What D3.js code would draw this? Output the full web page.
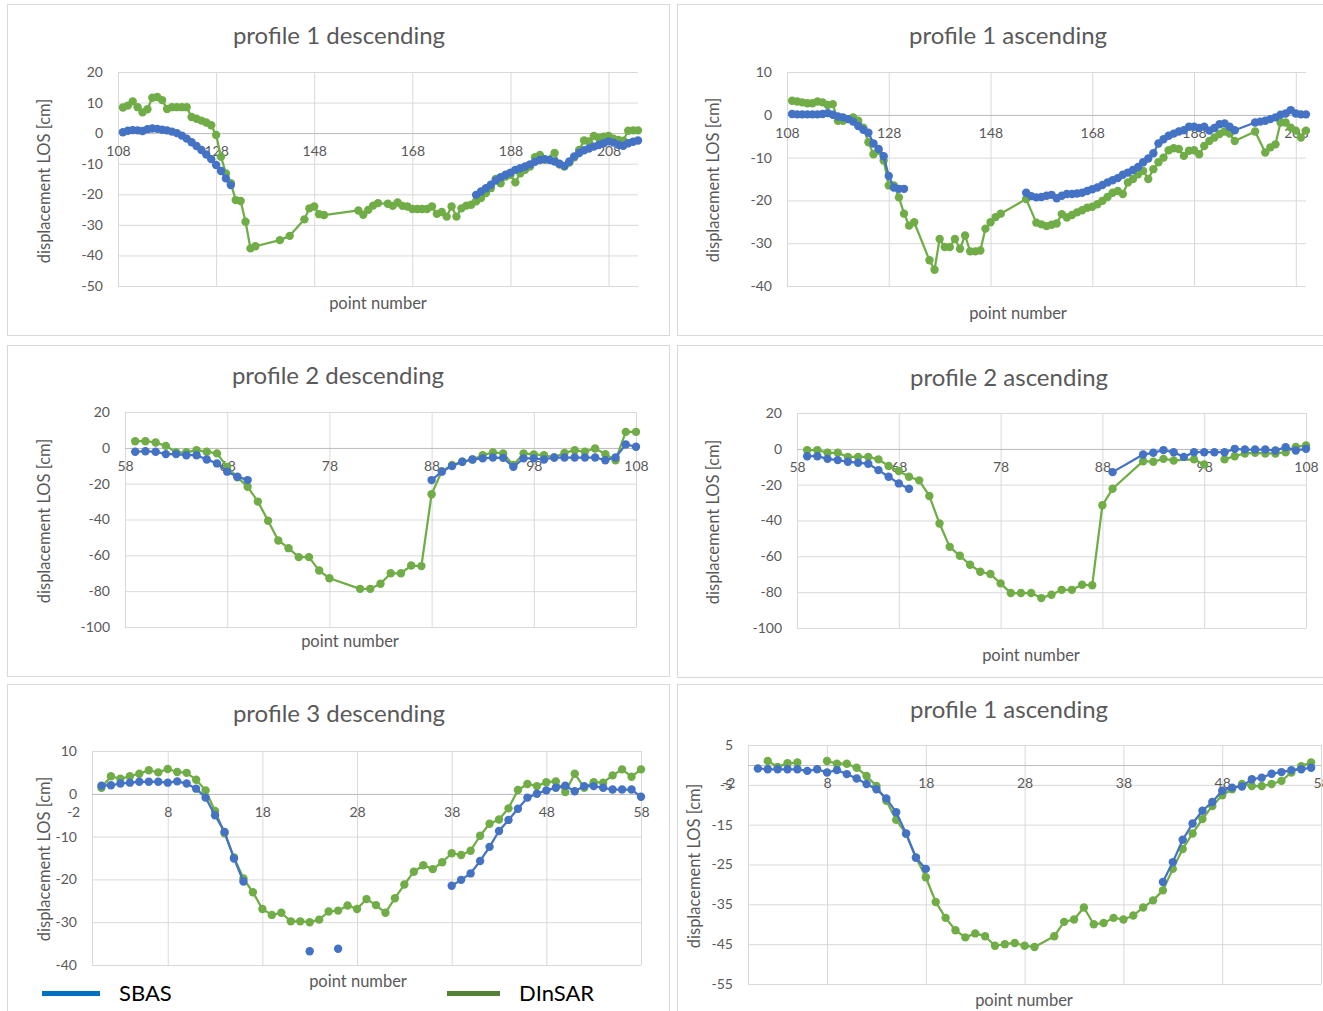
<!DOCTYPE html>
<html>
<head>
<meta charset="utf-8">
<script src="https://cdnjs.cloudflare.com/ajax/libs/d3/7.8.5/d3.min.js"></script>
<style>
  body { margin: 0; background: #fff; }
  svg { display: block; }
  text { font-family: Lato, "Open Sans", sans-serif; }
</style>
</head>
<body>
<svg></svg>
<script>
const seriesNames = ['SBAS', 'DInSAR']
const titles = ['profile 1 descending', 'profile 1 ascending', 'profile 2 descending',
                'profile 2 ascending', 'profile 3 descending', 'profile 1 ascending']
const xTitle = 'point number'
const yTitle = 'displacement LOS [cm]'

// tick labels
const xTicksA = [108, 128, 148, 168, 188, 208]
const xTicksB = [58, 68, 78, 88, 98, 108]
const xTicksC = [-2, 8, 18, 28, 38, 48, 58]
const yTicks1 = [20, 10, 0, -10, -20, -30, -40, -50]
const yTicks2 = [10, 0, -10, -20, -30, -40]
const yTicks3 = [20, 0, -20, -40, -60, -80, -100]
const yTicks5 = [10, 0, -10, -20, -30, -40]
const yTicks6 = [5, -5, -15, -25, -35, -45, -55]

// [point number, displacement]; null = break in the line
const p1Sbas = [[109,0.3],[110,0.8],[111,1.0],[112,0.9],[113,0.7],[114,1.3],[115,1.5],[116,1.4],[117,1.1],[118,0.9],[119,0.5],[120,0.0],[121,-0.8],[122,-1.8],[123,-3.0],[124,-4.2],[125,-5.5],[126,-7.0],[127,-8.5],[128,-10.4],[129,-12.4],[130,-14.8],[131,-17.0],null,
  [181,-20.2],[182,-19.1],[183,-18.0],[184,-16.9],[185,-15.5],[186,-14.4],[187,-13.6],[188,-12.9],[189,-12.0],[190,-11.5],[191,-10.9],[192,-10.2],[193,-9.4],[194,-8.8],[195,-8.5],[196,-8.8],[197,-9.3],[198,-10.0],[199,-10.7],[200,-9.3],[201,-7.6],[202,-6.5],[203,-5.6],[204,-5.0],[205,-4.4],[206,-3.9],[207,-3.3],[208,-2.7],[209,-3.1],[210,-3.8],[211,-4.1],[212,-3.3],[213,-2.8],[214,-2.4]]
const p1Din = [[109,8.4],[110,9.0],[111,10.4],[112,8.5],[113,6.8],[114,7.8],[115,11.6],[116,11.8],[117,10.8],[118,7.9],[119,8.5],[120,8.5],[121,8.5],[122,8.5],[123,5.3],[124,4.7],[125,4.1],[126,3.5],[127,2.6],[128,-0.6],[129,-7.7],[130,-13.2],[131,-16.4],[132,-21.9],[133,-22.2],[134,-29.0],[135,-37.7],[136,-37.0],
  [141,-35.0],[143,-33.6],[146,-28.2],[147,-24.6],[148,-24.0],[149,-26.5],[150,-26.8],[157,-25.3],[158,-26.7],[159,-25.1],[160,-23.7],[161,-22.9],[163,-23.1],[164,-23.8],[165,-22.7],[166,-23.8],[167,-24.0],[168,-24.8],[169,-24.8],[170,-24.8],[171,-24.8],[172,-24.0],[173,-26.4],[174,-25.8],[175,-27.3],[176,-24.0],[177,-27.3],[178,-24.6],[179,-23.7],[180,-23.4],[181,-22.3],[182,-21.2],[183,-19.6],[184,-18.0],[185,-15.0],[186,-16.4],[187,-14.2],[188,-13.6],[189,-16.1],[190,-13.1],[191,-12.0],[192,-10.9],[193,-7.9],[194,-7.1],[195,-8.7],[197,-6.5],[198,-10.3],[199,-10.9],[200,-9.6],[201,-7.9],[202,-5.5],[203,-2.4],[204,-2.7],[205,-0.9],[206,-1.6],[207,-1.2],[208,-0.9],[209,-1.8],[210,-2.2],[211,-2.5],[212,0.8],[213,0.9],[214,0.9]]

const p2Sbas = [[109,0.2],[110,0.1],[111,0.1],[112,0.1],[113,0.1],[114,0.1],[115,0.2],[116,0.4],[117,0.0],[118,-0.4],[119,-0.6],[120,-1.0],[121,-1.6],[122,-2.6],[123,-3.5],[124,-4.2],[125,-6.7],[126,-8.0],[127,-9.7],[128,-14.3],[129,-17.0],[130,-17.3],[131,-17.3],null,
  [155,-18.2],[156,-19.0],[157,-19.3],[158,-19.2],[159,-18.9],[160,-18.7],[161,-19.5],[162,-18.9],[163,-18.5],[164,-18.5],[165,-18.4],[166,-18.2],[167,-17.8],[168,-17.4],[169,-17.0],[170,-16.4],[171,-15.8],[172,-15.3],[173,-14.8],[174,-14.0],[175,-13.5],[176,-12.9],[177,-12.2],[178,-11.1],[179,-10.2],[180,-9.0],[181,-6.7],[182,-5.7],[183,-4.9],[184,-4.4],[185,-3.9],[186,-3.6],[187,-2.8],[188,-2.8],[189,-3.1],[190,-2.8],[191,-3.7],[192,-3.1],[193,-2.2],[194,-2.0],[195,-2.8],[196,-3.6],[200,-1.8],[201,-1.6],[202,-1.4],[203,-1.0],[204,-0.6],[205,0.0],[206,0.3],[207,1.1],[208,0.3],[209,0.1],[210,0.1]]
const p2Din = [[109,3.3],[110,3.1],[111,2.9],[112,2.7],[113,2.7],[114,3.1],[115,2.9],[116,2.3],[117,2.5],[118,-1.4],[119,-1.4],[120,-1.0],[121,-0.6],[122,-1.4],[123,-3.0],[124,-6.4],[125,-9.2],[126,-8.4],[127,-10.7],[128,-16.5],[129,-16.5],[130,-19.3],[131,-23.1],[132,-25.9],[133,-25.1],
  [136,-34.0],[137,-36.2],[138,-29.0],[139,-30.9],[140,-30.9],[141,-29.0],[142,-31.3],[143,-28.2],[144,-31.9],[145,-31.9],[146,-31.7],[147,-26.6],[148,-25.1],[149,-23.9],[150,-23.1],[155,-19.7],[157,-25.2],[158,-25.6],[159,-26.0],[160,-25.7],[161,-25.4],[162,-23.2],[163,-24.0],[164,-23.4],[165,-22.8],[166,-22.3],[167,-21.7],[168,-21.5],[169,-20.9],[170,-20.1],[171,-19.2],[172,-18.2],[173,-17.8],[174,-18.5],[175,-15.8],[176,-15.0],[177,-13.9],[178,-13.1],[179,-15.0],[180,-12.7],[181,-11.1],[182,-10.0],[183,-8.3],[184,-7.8],[185,-8.0],[186,-9.6],[187,-8.4],[188,-8.3],[189,-9.2],[190,-7.3],[191,-6.1],[192,-5.3],[193,-4.5],[194,-3.9],[195,-4.4],[196,-6.1],[200,-3.9],[202,-8.8],[203,-7.6],[204,-6.9],[205,-1.8],[206,-1.8],[207,-3.0],[208,-3.7],[209,-5.3],[210,-3.7]]

const p3Sbas = [[59,-2.2],[60,-1.9],[61,-2.2],[62,-3.5],[63,-3.5],[64,-4.1],[65,-4.1],[66,-6.5],[67,-8.7],[68,-13.3],[69,-16.1],[70,-18.0],null,
  [88,-18.0],[89,-13.3],[90,-10.2],[91,-7.8],[92,-6.5],[93,-5.9],[94,-5.4],[95,-5.6],[96,-10.6],[97,-5.9],[98,-5.9],[99,-6.5],[100,-5.4],[101,-5.4],[102,-5.4],[103,-5.4],[104,-5.4],[105,-6.9],[106,-5.4],[107,1.9],[108,0.6]]
const p3Din = [[59,3.7],[60,3.7],[61,3.0],[62,1.1],[63,-2.5],[64,-2.5],[65,-1.3],[66,-2.2],[67,-3.1],[68,-10.6],[69,-16.5],[70,-21.7],[71,-30.0],[72,-40.7],[73,-51.7],[74,-56.0],[75,-61.0],[76,-61.0],[77,-68.5],[78,-72.8],
  [81,-78.7],[82,-78.7],[83,-75.9],[84,-70.0],[85,-70.0],[86,-65.7],[87,-66.0],[88,-25.9],[89,-13.0],[90,-9.6],[91,-7.8],[92,-6.5],[93,-4.1],[94,-2.6],[95,-3.1],[96,-9.6],[97,-3.1],[98,-3.7],[99,-4.1],[100,-5.4],[101,-2.8],[102,-1.3],[103,-2.2],[104,-0.4],[105,-3.5],[106,-6.9],[107,8.9],[108,8.9]]

const p4Sbas = [[59,-4.1],[60,-4.1],[61,-5.6],[62,-6.3],[63,-7.2],[64,-7.8],[65,-8.3],[66,-11.9],[67,-15.6],[68,-19.3],[69,-22.3],null,
  [89,-13.0],[92,-3.2],[93,-2.2],[94,-0.7],[95,-1.9],[96,-4.5],[97,-1.9],[98,-1.9],[99,-1.9],[100,-1.9],[101,0.0],[102,-0.4],[103,-0.4],[104,-0.4],[105,-0.9],[106,0.9],[107,-0.9],[108,0.0]]
const p4Din = [[59,-0.7],[60,-0.7],[61,-2.2],[62,-2.2],[63,-4.5],[64,-4.5],[65,-4.5],[66,-5.9],[67,-9.6],[68,-12.4],[69,-15.6],[70,-17.6],[71,-26.3],[72,-41.7],[73,-54.7],[74,-59.7],[75,-64.7],[76,-68.6],[77,-69.9],[78,-75.1],[79,-80.5],[80,-80.5],[81,-80.5],[82,-83.3],[83,-81.4],[84,-78.7],[85,-78.7],[86,-75.9],[87,-76.1],[88,-31.5],[89,-22.3],
  [92,-6.9],[93,-7.2],[94,-5.6],[95,-6.5],[97,-5.9],[98,-8.7],null,[100,-5.9],[101,-4.1],[102,-2.6],[103,-2.2],[104,-2.6],[105,-2.6],[106,-1.9],[107,1.1],[108,1.9]]

const p5Sbas = [[1,1.9],[2,2.0],[3,2.4],[4,2.6],[5,2.8],[6,2.8],[7,2.8],[8,2.6],[9,2.9],[10,2.4],[11,1.2],[12,-0.9],[13,-5.0],[14,-8.9],[15,-15.1],[16,-20.5],null,
  [23,-36.8],null,[26,-36.2],null,
  [38,-21.5],[39,-20.1],[40,-18.6],[41,-15.7],[42,-12.4],[43,-8.7],[44,-6.1],[45,-3.5],[46,-0.9],[47,0.0],[48,0.8],[49,1.4],[50,1.9],[51,0.6],[52,1.8],[53,1.8],[54,1.4],[55,1.0],[56,1.0],[57,1.0],[58,-0.7]]
const p5Din = [[1,1.4],[2,4.1],[3,3.5],[4,4.1],[5,4.7],[6,5.5],[7,5.0],[8,5.8],[9,5.1],[10,4.9],[11,3.3],[12,0.8],[13,-4.0],[14,-9.2],[15,-14.9],[16,-19.8],[17,-23.0],[18,-26.9],[19,-28.3],[20,-27.8],[21,-29.8],[22,-29.8],[23,-30.0],[24,-29.4],[25,-27.5],[26,-27.3],[27,-26.1],[28,-26.9],[29,-24.6],[30,-26.0],
  [31,-27.8],[32,-24.4],[33,-21.2],[34,-18.2],[35,-16.7],[36,-17.6],[37,-16.0],[38,-13.9],[39,-14.3],[40,-13.3],[41,-9.8],[42,-7.0],[43,-6.0],[44,-3.4],[45,0.9],[46,2.3],[47,1.8],[48,2.7],[49,2.9],[50,0.4],[51,4.7],[52,1.4],[53,2.7],[54,2.6],[55,4.3],[56,5.7],[57,4.0],[58,5.7]]

const p6Sbas = [[1,-0.9],[2,-1.1],[3,-1.1],[4,-1.1],[5,-1.1],[6,-1.5],[7,-1.1],[8,-1.9],[9,-1.3],[10,-2.3],[11,-3.4],[12,-4.8],[13,-6.1],[14,-8.4],[15,-11.9],[16,-17.2],[17,-23.3],[18,-26.1],null,
  [42,-29.4],[43,-24.4],[44,-18.8],[45,-14.7],[46,-11.5],[47,-9.3],[48,-6.5],[49,-5.7],[50,-5.4],[51,-3.6],[52,-3.2],[53,-2.2],[54,-1.8],[55,-1.3],[56,-1.1],[57,-0.7]]
const p6Din = [[2,1.0],[3,-0.5],[4,0.4],[5,0.6],null,
  [8,1.0],[9,0.3],[10,0.3],[11,-0.7],[12,-2.8],[13,-5.3],[14,-9.0],[15,-13.8],[16,-17.3],[17,-23.2],[18,-28.2],[19,-34.4],[20,-38.4],[21,-41.5],[22,-43.3],[23,-42.3],[24,-43.0],[25,-45.4],[26,-45.0],[27,-44.7],[28,-45.4],[29,-45.7],
  [31,-43.0],[32,-39.4],[33,-38.8],[34,-35.8],[35,-40.0],[36,-39.7],[37,-38.4],[38,-38.8],[39,-37.8],[40,-35.8],[41,-34.0],[42,-31.5],[43,-26.1],[44,-21.1],[45,-17.2],[46,-13.6],[47,-10.3],[48,-7.6],[49,-6.1],[50,-4.8],[51,-5.3],[52,-5.3],[53,-4.8],[54,-4.0],[55,-1.9],[56,-0.3],[57,0.6]]

const sbasColor = '#4472c4'
const dinColor = '#70ad47'
const textColor = '#595959'
const gridColor = '#d9d9d9'

const panels = [
  { title: titles[0], sbas: p1Sbas, din: p1Din, xTicks: xTicksA, yTicks: yTicks1, xDomain: [108, 214], yDomain: [-50, 20],
    box: [7, 4, 662, 331], plot: [118, 72, 638, 286], titlePos: [339, 36], xTitlePos: [378, 303], yTitlePos: [44, 181] },
  { title: titles[1], sbas: p2Sbas, din: p2Din, xTicks: xTicksA, yTicks: yTicks2, xDomain: [108, 210], yDomain: [-40, 10],
    box: [677, 4, 660, 331], plot: [787, 72, 1306, 286], titlePos: [1008, 36], xTitlePos: [1018, 313], yTitlePos: [713, 180] },
  { title: titles[2], sbas: p3Sbas, din: p3Din, xTicks: xTicksB, yTicks: yTicks3, xDomain: [58, 108], yDomain: [-100, 20],
    box: [7, 345, 662, 331], plot: [125, 412, 636, 627], titlePos: [338, 376], xTitlePos: [350, 641], yTitlePos: [44, 521] },
  { title: titles[3], sbas: p4Sbas, din: p4Din, xTicks: xTicksB, yTicks: yTicks3, xDomain: [58, 108], yDomain: [-100, 20],
    box: [677, 345, 660, 332], plot: [797, 413, 1306, 628], titlePos: [1009, 378], xTitlePos: [1031, 655], yTitlePos: [713, 522] },
  { title: titles[4], sbas: p5Sbas, din: p5Din, xTicks: xTicksC, yTicks: yTicks5, xDomain: [0, 58], yDomain: [-40, 10],
    box: [7, 684, 662, 340], plot: [92, 751, 641, 965], titlePos: [339, 714], xTitlePos: [358, 981], yTitlePos: [44, 859] },
  { title: titles[5], sbas: p6Sbas, din: p6Din, xTicks: xTicksC, yTicks: yTicks6, xDomain: [0, 58], yDomain: [-55, 5],
    box: [677, 684, 660, 340], plot: [748, 745, 1321, 984], titlePos: [1009, 710], xTitlePos: [1024, 1000], yTitlePos: [694, 866] }
]

let width = 1323
let height = 1011

let svg = d3.select('svg').attr('width', width).attr('height', height)

const plainNumber = d => String(d) // plain hyphen minus, like the original

const drawPanel = (p) => {
  const [x0, y0, x1, y1] = p.plot
  const xScale = d3.scaleLinear().domain(p.xDomain).range([x0, x1])
  const yScale = d3.scaleLinear().domain(p.yDomain).range([y1, y0])
  const g = svg.append('g')

  g.append('rect')
   .attr('x', p.box[0] + 0.5).attr('y', p.box[1] + 0.5)
   .attr('width', p.box[2]).attr('height', p.box[3])
   .attr('fill', '#fff').attr('stroke', gridColor)

  // gridlines
  g.append('g')
   .attr('transform', 'translate(' + x0 + ',0)')
   .call(d3.axisLeft(yScale).tickValues(p.yTicks).tickSize(-(x1 - x0)).tickFormat(''))
   .call(a => a.select('.domain').remove())
   .selectAll('line').attr('stroke', gridColor)

  const insideTicks = p.xTicks.filter(t => t >= p.xDomain[0] && t <= p.xDomain[1])
  g.append('g')
   .attr('transform', 'translate(0,' + y1 + ')')
   .call(d3.axisBottom(xScale).tickValues(insideTicks).tickSize(-(y1 - y0)).tickFormat(''))
   .call(a => a.select('.domain').remove())
   .selectAll('line').attr('stroke', gridColor)

  // vertical axis line at the left edge
  g.append('line')
   .attr('x1', x0 + 0.5).attr('x2', x0 + 0.5).attr('y1', y0).attr('y2', y1)
   .attr('stroke', gridColor)

  // horizontal axis line at zero
  g.append('line')
   .attr('x1', x0).attr('x2', x1)
   .attr('y1', Math.round(yScale(0)) + 0.5).attr('y2', Math.round(yScale(0)) + 0.5)
   .attr('stroke', '#bfbfbf')

  // y tick labels
  const yAxis = g.append('g')
   .attr('transform', 'translate(' + x0 + ',0)')
   .call(d3.axisLeft(yScale).tickValues(p.yTicks).tickSize(0).tickPadding(15).tickFormat(plainNumber))
  yAxis.select('.domain').remove()
  yAxis.selectAll('text').attr('fill', textColor).style('font-size', '14px').style('font-family', 'Lato')

  // x tick labels sit just under the zero line
  const xAxis = g.append('g')
   .attr('transform', 'translate(0,' + yScale(0) + ')')
   .call(d3.axisBottom(xScale).tickValues(p.xTicks).tickSize(0).tickPadding(13).tickFormat(plainNumber))
  xAxis.select('.domain').remove()
  xAxis.selectAll('text').attr('fill', textColor).style('font-size', '14px').style('font-family', 'Lato')

  // series: DInSAR first, SBAS on top
  const line = d3.line()
                 .defined(d => d !== null)
                 .x(d => xScale(d[0]))
                 .y(d => yScale(d[1]))

  ;[[p.din, dinColor], [p.sbas, sbasColor]].forEach(([data, color]) => {
    g.append('path')
     .attr('d', line(data))
     .attr('fill', 'none')
     .attr('stroke', color)
     .attr('stroke-width', 2.25)
     .attr('stroke-linejoin', 'round')

    g.append('g')
     .selectAll('circle')
     .data(data.filter(d => d !== null))
     .enter()
     .append('circle')
     .attr('cx', d => xScale(d[0]))
     .attr('cy', d => yScale(d[1]))
     .attr('r', 4.2)
     .attr('fill', color)
  })

  g.append('text')
   .attr('x', p.titlePos[0]).attr('y', p.titlePos[1]).attr('dy', '0.35em')
   .attr('text-anchor', 'middle').attr('fill', textColor)
   .style('font-size', '24px')
   .text(p.title)

  g.append('text')
   .attr('x', p.xTitlePos[0]).attr('y', p.xTitlePos[1]).attr('dy', '0.35em')
   .attr('text-anchor', 'middle').attr('fill', textColor)
   .style('font-size', '16.5px')
   .text(xTitle)

  g.append('text')
   .attr('transform', 'translate(' + p.yTitlePos[0] + ',' + p.yTitlePos[1] + ') rotate(-90)')
   .attr('dy', '0.35em')
   .attr('text-anchor', 'middle').attr('fill', textColor)
   .style('font-size', '16.5px')
   .text(yTitle)
}

panels.forEach(drawPanel)

// legend
const legend = [
  { name: seriesNames[0], color: '#0070c0', x: 42, w: 58, tx: 119 },
  { name: seriesNames[1], color: '#548235', x: 447, w: 53, tx: 519 }
]
legend.forEach(item => {
  svg.append('rect')
     .attr('x', item.x).attr('y', 991)
     .attr('width', item.w).attr('height', 5)
     .attr('fill', item.color)
  svg.append('text')
     .attr('x', item.tx).attr('y', 993).attr('dy', '0.35em')
     .attr('fill', '#000')
     .style('font-size', '22px')
     .text(item.name)
})
</script>
</body>
</html>
